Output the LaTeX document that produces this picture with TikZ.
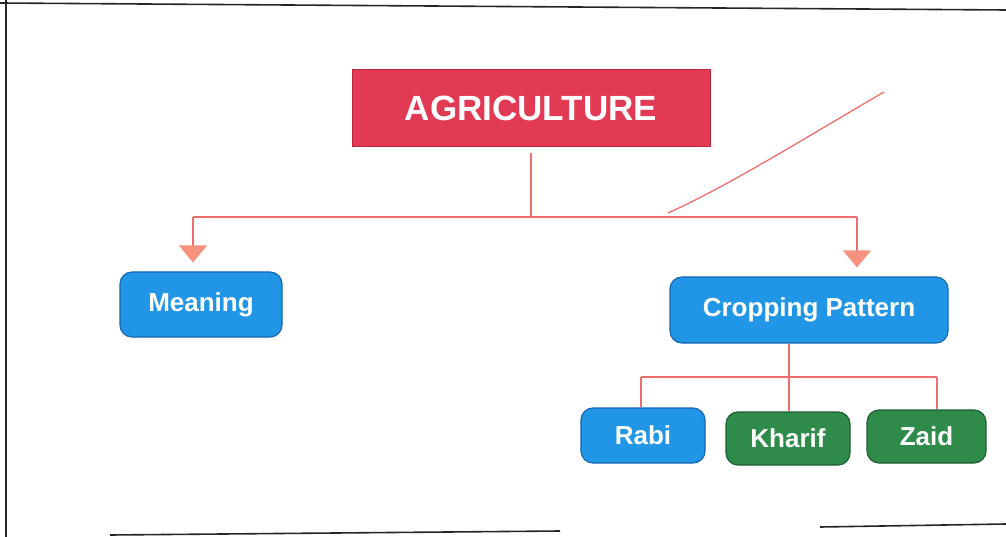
\documentclass[tikz,border=0pt]{standalone}
\usepackage{fontspec}
\setmainfont{Liberation Sans}
\usetikzlibrary{arrows.meta}
\definecolor{agrired}{HTML}{E23A55}
\definecolor{agriredline}{HTML}{B82540}
\definecolor{boxblue}{HTML}{2196E6}
\definecolor{boxblueline}{HTML}{1766B0}
\definecolor{boxgreen}{HTML}{2E8B4A}
\definecolor{boxgreenline}{HTML}{1D5E32}
\definecolor{conn}{HTML}{EE6E6E}
\definecolor{tipcol}{HTML}{F5927F}
\tikzset{
  topbox/.style={draw=agriredline, line width=1pt, fill=agrired, text=white,
    font=\bfseries\fontsize{35}{38}\selectfont, minimum width=358pt, minimum height=77pt, inner sep=0pt},
  rbox/.style={draw=#1line, line width=1.2pt, fill=#1, text=white, rounded corners=12pt,
    font=\bfseries\fontsize{26}{30}\selectfont, inner sep=0pt},
  connector/.style={draw=conn, line width=2pt},
  arrowconn/.style={connector, -{Triangle[width=28pt,length=17pt,fill=tipcol,color=tipcol]}, shorten >=9pt},
  frameline/.style={draw=black!85, line width=1.6pt},
}
\begin{document}
\begin{tikzpicture}[x=1pt,y=-1pt]
\useasboundingbox (0,0) rectangle (1006,537);
% frame of the scanned sheet
\draw[frameline] (0,3) -- (1006,10);
\draw[frameline] (6,0) -- (6,537);
\draw[frameline] (110,535) -- (560,531);
\draw[frameline] (820,527) -- (1006,524);
% pen stroke
\draw[conn, line width=1.3pt] (668,213) .. controls (730,185) and (810,135) .. (884,92);
% nodes
\node[topbox] (agri) at (531,108.5) {AGRICULTURE};
\node[rbox=boxblue, minimum width=162pt, minimum height=65pt] (meaning) at (201,304.5) {Meaning};
\node[rbox=boxblue, minimum width=278pt, minimum height=66pt] (crop) at (809,310) {Cropping Pattern};
\node[rbox=boxblue, minimum width=124pt, minimum height=55pt] (rabi) at (643,435.5) {Rabi};
\node[rbox=boxgreen, minimum width=124pt, minimum height=53pt] (kharif) at (788,438.5) {Kharif};
\node[rbox=boxgreen, minimum width=119pt, minimum height=53pt] (zaid) at (926.5,436.5) {Zaid};
% connector coordinates
\coordinate (jc) at (531,217);
\coordinate (jl) at (193,217);
\coordinate (jr) at (857,217);
\coordinate (cj) at (789,377);
\coordinate (rl) at (641,377);
\coordinate (rr) at (937,377);
% upper connectors
\draw[connector] ([yshift=-6pt]agri.south) -- (jc);
\draw[connector] (jl) -- (jr);
\draw[arrowconn] (jl) -- (jl |- meaning.north);
\draw[arrowconn] (jr) -- (jr |- crop.north);
% lower connectors
\draw[connector] (cj |- crop.south) -- (cj);
\draw[connector] (rl) -- (rr);
\draw[connector] (rl) -- (rl |- rabi.north);
\draw[connector] (cj) -- (cj |- kharif.north);
\draw[connector] (rr) -- (rr |- zaid.north);
\end{tikzpicture}
\end{document}
